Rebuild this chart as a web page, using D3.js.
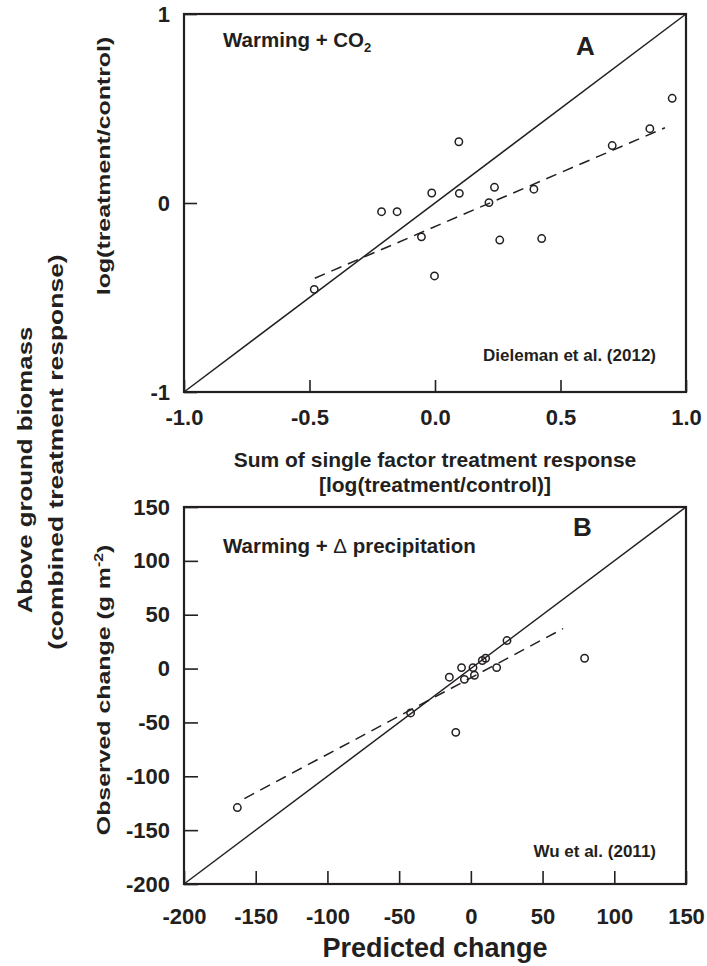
<!DOCTYPE html>
<html>
<head>
<meta charset="utf-8">
<script src="https://cdn.jsdelivr.net/npm/d3@7"></script>
<style>
  html, body { margin: 0; padding: 0; background: #fff; }
  svg { display: block; }
  text { font-family: "Liberation Sans", Arial, Helvetica, sans-serif; font-weight: bold; fill: #231f20; }
</style>
</head>
<body>
<svg id="chart" width="707" height="966"></svg>
<script>
// ---------- Data ----------
// Panel A: Dieleman et al. (2012), warming + CO2
const aPredicted = [-0.481, -0.213, -0.151, -0.054, -0.013, -0.002, 0.095, 0.097, 0.215, 0.237, 0.258, 0.394, 0.425, 0.706, 0.856, 0.945];
const aObserved  = [-0.457, -0.046, -0.046, -0.179, 0.053, -0.386, 0.324, 0.051, 0.002, 0.083, -0.196, 0.073, -0.188, 0.304, 0.393, 0.554];
const aFitX = [-0.479, 0.916];
const aFitY = [-0.398, 0.398];
const aDomain = [-1, 1];
const aXTicks = [-1, -0.5, 0, 0.5, 1];
const aYTicks = [-1, 0, 1];

// Panel B: Wu et al. (2011), warming + delta precipitation
const bPredicted = [-162.8, -42.0, -15.0, -6.5, -4.5, -10.5, 1.5, 2.5, 8.0, 10.3, 18.0, 25.2, 79.3];
const bObserved  = [-129.0, -41.2, -8.0, 0.9, -10.0, -59.2, 0.9, -6.2, 7.5, 9.6, 0.9, 26.0, 9.6];
const bFitX = [-157.9, 64.3];
const bFitY = [-120.7, 37.1];
const bDomain = [-200, 150];
const bTicks = [-200, -150, -100, -50, 0, 50, 100, 150];

// ---------- Layout ----------
const ink = "#231f20";
const svg = d3.select("#chart");
const left = 184, right = 686;

function panel(cfg) {
  const x = d3.scaleLinear().domain(cfg.domain).range([left, right]);
  const y = d3.scaleLinear().domain(cfg.domain).range([cfg.bottom, cfg.top]);
  const g = svg.append("g");

  const xAxis = d3.axisBottom(x).tickValues(cfg.xTicks).tickFormat(cfg.xFmt)
      .tickSizeInner(-cfg.xTickLen).tickSizeOuter(0).tickPadding(cfg.xPad);
  const gx = g.append("g").attr("transform", `translate(0,${cfg.bottom})`).call(xAxis);
  gx.select(".domain").remove();
  gx.selectAll("line").attr("stroke", ink).attr("stroke-width", 1.6);
  gx.selectAll("text").attr("font-size", 22).attr("fill", ink)
    .attr("font-family", '"Liberation Sans", Arial, sans-serif').attr("font-weight", "bold");

  const yAxis = d3.axisLeft(y).tickValues(cfg.yTicks).tickFormat(cfg.yFmt)
      .tickSizeInner(-cfg.yTickLen).tickSizeOuter(0).tickPadding(14);
  const gy = g.append("g").attr("transform", `translate(${left},0)`).call(yAxis);
  gy.select(".domain").remove();
  gy.selectAll("line").attr("stroke", ink).attr("stroke-width", 1.6);
  gy.selectAll("text").attr("font-size", 22).attr("fill", ink)
    .attr("font-family", '"Liberation Sans", Arial, sans-serif').attr("font-weight", "bold");

  g.append("rect").attr("x", left).attr("y", cfg.top)
    .attr("width", right - left).attr("height", cfg.bottom - cfg.top)
    .attr("fill", "none").attr("stroke", ink).attr("stroke-width", 2.2);

  g.append("line")
    .attr("x1", x(cfg.domain[0])).attr("y1", y(cfg.domain[0]))
    .attr("x2", x(cfg.domain[1])).attr("y2", y(cfg.domain[1]))
    .attr("stroke", ink).attr("stroke-width", 1.5);

  g.append("line")
    .attr("x1", x(cfg.fitX[0])).attr("y1", y(cfg.fitY[0]))
    .attr("x2", x(cfg.fitX[1])).attr("y2", y(cfg.fitY[1]))
    .attr("stroke", ink).attr("stroke-width", 1.5).attr("stroke-dasharray", "11,7");

  g.selectAll("circle.pt").data(cfg.xs.map((v, i) => [v, cfg.ys[i]]))
    .enter().append("circle").attr("class", "pt")
    .attr("cx", d => x(d[0])).attr("cy", d => y(d[1])).attr("r", 3.7)
    .attr("fill", "none").attr("stroke", ink).attr("stroke-width", 1.5);

  return { x, y, g };
}

panel({
  domain: aDomain, top: 14, bottom: 392,
  xTicks: aXTicks, yTicks: aYTicks,
  xFmt: d => d.toFixed(1), yFmt: d => String(d),
  xTickLen: 12, yTickLen: 13, xPad: 17,
  xs: aPredicted, ys: aObserved, fitX: aFitX, fitY: aFitY
});

panel({
  domain: bDomain, top: 507, bottom: 884,
  xTicks: bTicks, yTicks: bTicks,
  xFmt: d => String(d), yFmt: d => String(d),
  xTickLen: 13, yTickLen: 14, xPad: 24,
  xs: bPredicted, ys: bObserved, fitX: bFitX, fitY: bFitY
});

// ---------- Panel texts ----------
const tA = svg.append("text").attr("x", 223).attr("y", 47).attr("font-size", 20.5);
tA.append("tspan").text("Warming + CO");
tA.append("tspan").text("2").attr("font-size", 13).attr("dy", 5);

svg.append("text").attr("x", 576).attr("y", 55).attr("font-size", 26).text("A");
svg.append("text").attr("x", 656).attr("y", 361).attr("font-size", 17)
  .attr("text-anchor", "end").text("Dieleman et al. (2012)");

const tB = svg.append("text").attr("x", 223).attr("y", 553).attr("font-size", 20.5);
tB.append("tspan").text("Warming + ");
tB.append("tspan").text("\u0394").attr("font-weight", "normal");
tB.append("tspan").text(" precipitation");

svg.append("text").attr("x", 573).attr("y", 536).attr("font-size", 26).text("B");
svg.append("text").attr("x", 656).attr("y", 857).attr("font-size", 17)
  .attr("text-anchor", "end").text("Wu et al. (2011)");

// ---------- Axis titles ----------
svg.append("text").attr("x", 435).attr("y", 467).attr("font-size", 21)
  .attr("text-anchor", "middle").text("Sum of single factor treatment response");
svg.append("text").attr("x", 435).attr("y", 492).attr("font-size", 21)
  .attr("text-anchor", "middle").text("[log(treatment/control)]");

svg.append("text").attr("x", 435).attr("y", 957).attr("font-size", 27)
  .attr("text-anchor", "middle").text("Predicted change");

function vtext(x, y, size, stretch) {
  return svg.append("text")
    .attr("transform", `translate(${x},${y}) rotate(-90) scale(${stretch},1)`)
    .attr("font-size", size).attr("text-anchor", "middle");
}
vtext(110, 166, 19, 1.31).text("log(treatment/control)");

const obs = vtext(110, 690, 19, 1.31);
obs.append("tspan").text("Observed change (g m");
obs.append("tspan").text("-2").attr("font-size", 12).attr("dy", -7);
obs.append("tspan").text(")").attr("dy", 7);

vtext(32, 470, 21, 1.23).text("Above ground biomass");
vtext(63, 452, 21, 1.26).text("(combined treatment response)");
</script>
</body>
</html>
